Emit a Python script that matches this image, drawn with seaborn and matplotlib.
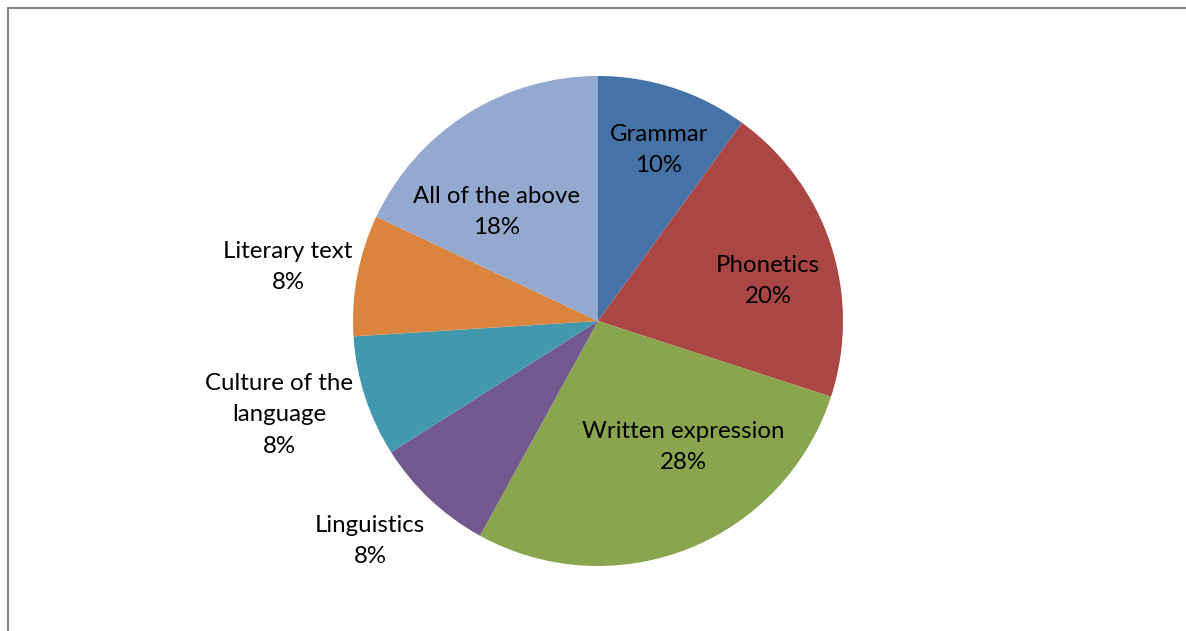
import matplotlib
matplotlib.use("Agg")
import matplotlib.pyplot as plt
import seaborn as sns
import numpy as np
from matplotlib.lines import Line2D

# data
categories = ["Grammar", "Phonetics", "Written expression", "Linguistics",
              "Culture of the\nlanguage", "Literary text", "All of the above"]
shares = [10, 20, 28, 8, 8, 8, 18]
colors = ["#4572A7", "#AA4643", "#89A54E", "#71588F", "#4198AF", "#DB843D", "#93A9CF"]

# label placement (distance from centre in radii, angle in degrees)
label_pos = [(0.741, 70.4), (0.713, 13.2), (0.620, -56.0), (1.292, -136.0),
             (1.357, -163.6), (1.284, 170.1), (0.607, 132.8)]

sns.set_theme(style="white")
plt.rcParams["font.family"] = ["Lato", "DejaVu Sans"]

fig = plt.figure(figsize=(11.86, 6.31), dpi=100)
ax = fig.add_axes([353 / 1186, 65 / 631, 490 / 1186, 490 / 631])
ax.pie(shares, colors=colors, startangle=90, counterclock=False,
       wedgeprops=dict(linewidth=0))
ax.set_xlim(-1, 1)
ax.set_ylim(-1, 1)
ax.set_aspect("equal")
ax.axis("off")

for cat, val, (d, ang) in zip(categories, shares, label_pos):
    x = d * np.cos(np.radians(ang))
    y = d * np.sin(np.radians(ang))
    ax.text(x, y, f"{cat}\n{val}%", ha="center", va="center",
            fontsize=17.3, color="black", linespacing=1.6, clip_on=False)

# chart-area border (left and top edges visible)
fig.add_artist(Line2D([7.5 / 1186, 7.5 / 1186], [0, 1 - 7.5 / 631],
                      transform=fig.transFigure, color="#868686", lw=1.5))
fig.add_artist(Line2D([7.5 / 1186, 1], [1 - 7.5 / 631, 1 - 7.5 / 631],
                      transform=fig.transFigure, color="#868686", lw=1.5))

fig.savefig("out.png", dpi=100)
